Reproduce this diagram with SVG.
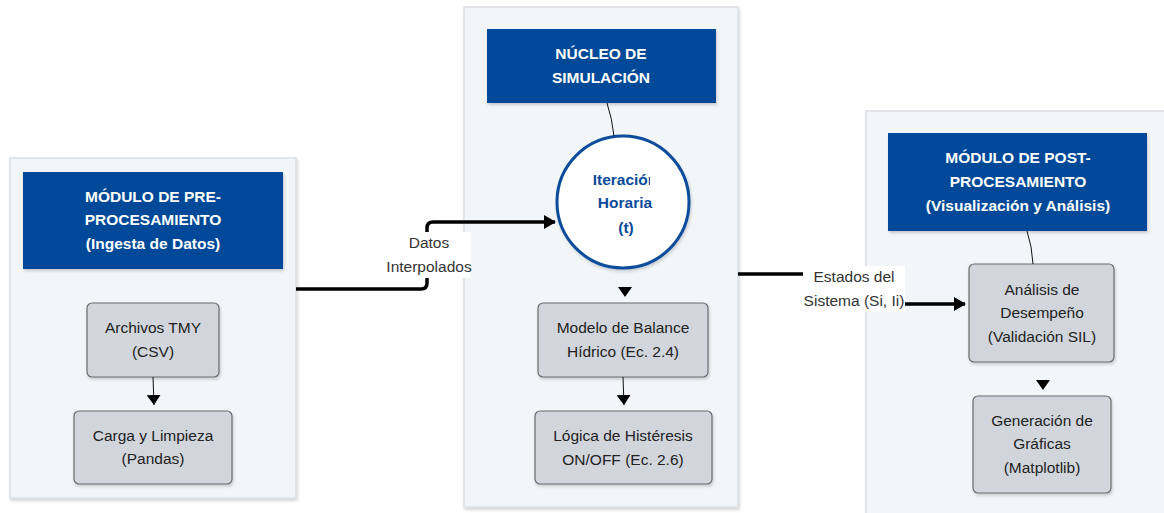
<svg xmlns="http://www.w3.org/2000/svg" width="1164" height="513" viewBox="0 0 1164 513">
<defs>
<filter id="sh" x="-10%" y="-10%" width="130%" height="130%">
<feDropShadow dx="1" dy="2" stdDeviation="1.5" flood-color="#000" flood-opacity="0.18"/>
</filter>
<marker id="ah" viewBox="0 0 12 14" refX="11" refY="7" markerWidth="12" markerHeight="14" markerUnits="userSpaceOnUse" orient="auto">
<path d="M0,0 L12,7 L0,14 z" fill="#000"/>
</marker>
<marker id="ahs" viewBox="0 0 10 14" refX="10" refY="7" markerWidth="10" markerHeight="14" markerUnits="userSpaceOnUse" orient="auto">
<path d="M0,0 L10,7 L0,14 z" fill="#000"/>
</marker>
<clipPath id="cc"><rect x="560" y="150" width="90" height="100"/></clipPath>
</defs>
<style>
.cl{fill:#F3F6F9;stroke:#DCE0E5;stroke-width:1.5}
.hd{fill:#054A98}
.ht{font-family:"Liberation Sans",Arial,sans-serif;font-weight:bold;font-size:15.5px;fill:#fff;text-anchor:middle}
.bx{fill:#D2D6DC;stroke:#6B6B6B;stroke-width:1.2}
.bt{font-family:"Liberation Sans",Arial,sans-serif;font-size:15.5px;fill:#222;text-anchor:middle}
.lt{font-family:"Liberation Sans",Arial,sans-serif;font-size:15.5px;fill:#333;text-anchor:middle}
.ct{font-family:"Liberation Sans",Arial,sans-serif;font-weight:bold;font-size:15.5px;fill:#0B4C9B;text-anchor:middle}
.thick{fill:none;stroke:#000;stroke-width:3.5}
.thin{fill:none;stroke:#111;stroke-width:1}
</style>

<g id="cluster-pre">
<rect class="cl" x="10" y="158" width="286" height="340" filter="url(#sh)"/>
<g id="hdr-pre">
<rect class="hd" x="23" y="172" width="260" height="97" filter="url(#sh)"/>
<text class="ht" x="153" y="202">MÓDULO DE PRE-</text>
<text class="ht" x="153" y="225">PROCESAMIENTO</text>
<text class="ht" x="153" y="249">(Ingesta de Datos)</text>
</g>
<g id="n-tmy">
<rect class="bx" x="87" y="303" width="132" height="74" rx="5" filter="url(#sh)"/>
<text class="bt" x="153" y="333">Archivos TMY</text>
<text class="bt" x="153" y="357">(CSV)</text>
</g>
<g id="n-carga">
<rect class="bx" x="74" y="411" width="158" height="73" rx="5" filter="url(#sh)"/>
<text class="bt" x="153" y="441">Carga y Limpieza</text>
<text class="bt" x="153" y="464">(Pandas)</text>
</g>
</g>

<g id="cluster-sim">
<rect class="cl" x="464" y="7" width="274" height="500" filter="url(#sh)"/>
<g id="hdr-sim">
<rect class="hd" x="487" y="29" width="229" height="74" filter="url(#sh)"/>
<text class="ht" x="601" y="59">NÚCLEO DE</text>
<text class="ht" x="601" y="83">SIMULACIÓN</text>
</g>
<g id="n-iter">
<circle cx="623" cy="202" r="66" fill="#fff" stroke="#0B4C9B" stroke-width="3" filter="url(#sh)"/>
<g clip-path="url(#cc)">
<text class="ct" x="625" y="185">Iteración</text>
</g>
<text class="ct" x="625" y="208">Horaria</text>
<text class="ct" x="626" y="233">(t)</text>
</g>
<g id="n-modelo">
<rect class="bx" x="538" y="303" width="170" height="74" rx="5" filter="url(#sh)"/>
<text class="bt" x="623" y="333">Modelo de Balance</text>
<text class="bt" x="623" y="357">Hídrico (Ec. 2.4)</text>
</g>
<g id="n-logica">
<rect class="bx" x="535" y="411" width="177" height="73" rx="5" filter="url(#sh)"/>
<text class="bt" x="623" y="441">Lógica de Histéresis</text>
<text class="bt" x="623" y="465">ON/OFF (Ec. 2.6)</text>
</g>
</g>

<g id="cluster-post">
<rect class="cl" x="866" y="111" width="310" height="420" filter="url(#sh)"/>
<g id="hdr-post">
<rect class="hd" x="888" y="133" width="259" height="98" filter="url(#sh)"/>
<text class="ht" x="1018" y="163">MÓDULO DE POST-</text>
<text class="ht" x="1018" y="187">PROCESAMIENTO</text>
<text class="ht" x="1018" y="211">(Visualización y Análisis)</text>
</g>
<g id="n-analisis">
<rect class="bx" x="969" y="264" width="145" height="98" rx="5" filter="url(#sh)"/>
<text class="bt" x="1042" y="295">Análisis de</text>
<text class="bt" x="1042" y="318">Desempeño</text>
<text class="bt" x="1042" y="342">(Validación SIL)</text>
</g>
<g id="n-graficas">
<rect class="bx" x="973" y="396" width="138" height="97" rx="5" filter="url(#sh)"/>
<text class="bt" x="1042" y="426">Generación de</text>
<text class="bt" x="1042" y="449">Gráficas</text>
<text class="bt" x="1042" y="473">(Matplotlib)</text>
</g>
</g>

<g id="connectors">
<path class="thin" d="M153,377 L154,405" marker-end="url(#ahs)"/>
<path class="thin" d="M607,103 Q612,118 614,136"/>
<path d="M618,287 L632,287 L625,297 z" fill="#000"/>
<path class="thin" d="M623,377 L624,405" marker-end="url(#ahs)"/>
<path class="thin" d="M1027,231 Q1032,246 1033,264"/>
<path d="M1036,380 L1050,380 L1043,390 z" fill="#000"/>
<path class="thick" d="M296,289 L421,289 Q427,289 427,283 L427,228 Q427,222 433,222 L555,222" marker-end="url(#ah)"/>
<path class="thick" d="M738,274 L848,274 Q854,274 854,280 L854,298 Q854,304 860,304 L965,304" marker-end="url(#ah)"/>
<g id="lbl-datos">
<rect x="387" y="232" width="84" height="46" fill="#fff"/>
<text class="lt" x="429" y="248">Datos</text>
<text class="lt" x="429" y="272">Interpolados</text>
</g>
<g id="lbl-estados">
<rect x="803" y="266" width="102" height="46" fill="#fff"/>
<text class="lt" x="854" y="282">Estados del</text>
<text class="lt" x="854" y="306">Sistema (Si, Ii)</text>
</g>
</g>
</svg>
